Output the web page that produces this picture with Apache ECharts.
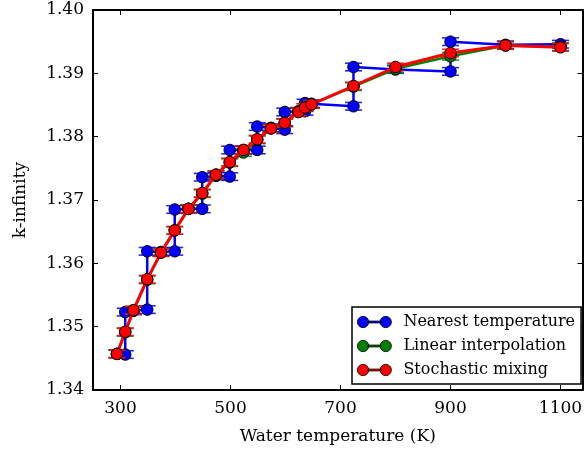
<!DOCTYPE html>
<html>
<head>
<meta charset="utf-8">
<script src="https://cdn.jsdelivr.net/npm/echarts@6/dist/echarts.min.js"></script>
<style>
html,body{margin:0;padding:0;background:#fff;}
#chart{width:586px;height:450px;}
</style>
</head>
<body>
<div id="chart"></div>
<script>
// ---- data ----
const xNearest = [293.6, 308.6, 308.6, 323.6, 348.6, 348.6, 373.6, 398.6, 398.6, 423.6, 448.6, 448.6, 473.6, 498.6, 498.6, 523.6, 548.6, 548.6, 573.6, 598.6, 598.6, 623.6, 635.5, 635.5, 647.3, 723.6, 723.6, 800, 900, 900, 1000, 1100];
const yNearest = [1.3457, 1.3456, 1.3523, 1.3525, 1.3527, 1.3619, 1.3618, 1.3619, 1.3685, 1.3686, 1.3686, 1.3736, 1.3738, 1.3737, 1.3779, 1.3779, 1.3779, 1.3816, 1.3814, 1.3811, 1.3839, 1.3840, 1.3840, 1.3853, 1.3852, 1.3848, 1.3910, 1.3906, 1.3903, 1.3950, 1.3945, 1.3946];
const eNearest = [0.0006, 0.0006, 0.0006, 0.0006, 0.0006, 0.0006, 0.0006, 0.0006, 0.0006, 0.0006, 0.0006, 0.0006, 0.0006, 0.0006, 0.0006, 0.0006, 0.0006, 0.0006, 0.0006, 0.0006, 0.0006, 0.0006, 0.0006, 0.0006, 0.0006, 0.0006, 0.0006, 0.0006, 0.0006, 0.0006, 0.0006, 0.0006];

const xLinear = [293.6, 308.6, 323.6, 348.6, 373.6, 398.6, 423.6, 448.6, 473.6, 498.6, 523.6, 548.6, 573.6, 598.6, 623.6, 635.5, 647.3, 723.6, 800, 900, 1000, 1100];
const yLinear = [1.3457, 1.3491, 1.3526, 1.3574, 1.3617, 1.3652, 1.3686, 1.3710, 1.3740, 1.3759, 1.3775, 1.3795, 1.3813, 1.3822, 1.3839, 1.3846, 1.3851, 1.3879, 1.3907, 1.3927, 1.3944, 1.3942];
const eLinear = [0.0006, 0.0006, 0.0006, 0.0006, 0.0006, 0.0006, 0.0006, 0.0006, 0.0006, 0.0006, 0.0006, 0.0006, 0.0006, 0.0006, 0.0006, 0.0006, 0.0006, 0.0006, 0.0006, 0.0006, 0.0006, 0.0006];

const xStochastic = [293.6, 308.6, 323.6, 348.6, 373.6, 398.6, 423.6, 448.6, 473.6, 498.6, 523.6, 548.6, 573.6, 598.6, 623.6, 635.5, 647.3, 723.6, 800, 900, 1000, 1100];
const yStochastic = [1.3457, 1.3492, 1.3526, 1.3575, 1.3617, 1.3652, 1.3686, 1.3711, 1.3740, 1.3760, 1.3779, 1.3796, 1.3813, 1.3822, 1.3839, 1.3846, 1.3851, 1.3880, 1.3910, 1.3932, 1.3944, 1.3941];
const eStochastic = [0.0006, 0.0006, 0.0006, 0.0006, 0.0006, 0.0006, 0.0006, 0.0006, 0.0006, 0.0006, 0.0006, 0.0006, 0.0006, 0.0006, 0.0006, 0.0006, 0.0006, 0.0006, 0.0006, 0.0006, 0.0006, 0.0006];

const seriesNames = ['Nearest temperature', 'Linear interpolation', 'Stochastic mixing'];
const xTicks = [300, 500, 700, 900, 1100];
const yTicks = [1.34, 1.35, 1.36, 1.37, 1.38, 1.39, 1.40];

// ---- chart ----
const FONT = 'DejaVu Serif';
const colors = ['#0000ff', '#008000', '#ff0000'];
const xs = [xNearest, xLinear, xStochastic];
const ys = [yNearest, yLinear, yStochastic];
const es = [eNearest, eLinear, eStochastic];

function errRender(color) {
  return function (params, api) {
    const x = api.value(0), y = api.value(1), e = api.value(2);
    const t = api.coord([x, y + e]);
    const b = api.coord([x, y - e]);
    const hw = 8.5;
    const st = { stroke: color, lineWidth: 1.6, opacity: 0.85 };
    return {
      type: 'group',
      children: [
        { type: 'line', shape: { x1: t[0], y1: t[1], x2: b[0], y2: b[1] }, style: st },
        { type: 'line', shape: { x1: t[0] - hw, y1: t[1], x2: t[0] + hw, y2: t[1] }, style: st },
        { type: 'line', shape: { x1: b[0] - hw, y1: b[1], x2: b[0] + hw, y2: b[1] }, style: st }
      ]
    };
  };
}

const series = [];
for (let i = 0; i < 3; i++) {
  series.push({
    name: seriesNames[i] + ' err',
    type: 'custom',
    xAxisIndex: 0, yAxisIndex: 0,
    renderItem: errRender(colors[i]),
    data: xs[i].map((x, k) => [x, ys[i][k], es[i][k]]),
    encode: { x: 0, y: 1 },
    z: 2 + i * 3,
    silent: true
  });
  series.push({
    name: seriesNames[i],
    type: 'line',
    xAxisIndex: 0, yAxisIndex: 0,
    data: xs[i].map((x, k) => [x, ys[i][k]]),
    symbol: 'circle',
    symbolSize: 11.5,
    showAllSymbol: true,
    lineStyle: { color: colors[i], width: i === 2 ? 3 : 2.5 },
    itemStyle: { color: colors[i], borderColor: '#000', borderWidth: 1 },
    z: 3 + i * 3,
    clip: false
  });
}

const legendIcon = 'path://M0,6A6,6 0 1,1 12,6A6,6 0 1,1 0,6Z M11,5L25,5L25,7L11,7Z M24,6A6,6 0 1,1 36,6A6,6 0 1,1 24,6Z';

const axisLineStyle = { color: '#000', width: 2 };
const tickStyle = { color: '#000', width: 1 };

const option = {
  animation: false,
  backgroundColor: '#fff',
  grid: { left: 93, right: 3.5, top: 10, bottom: 60, containLabel: false },
  xAxis: [
    {
      type: 'value', position: 'bottom', min: 250, max: 1140,
      axisLine: { show: true, onZero: false, lineStyle: axisLineStyle },
      axisTick: { show: true, inside: true, length: 5, lineStyle: tickStyle, customValues: xTicks },
      axisLabel: { show: true, customValues: xTicks, margin: 10, color: '#000', fontFamily: FONT, fontSize: 17,
        formatter: v => String(v) },
      splitLine: { show: false },
      name: 'Water temperature (K)', nameLocation: 'middle', nameGap: 38,
      nameTextStyle: { color: '#000', fontFamily: FONT, fontSize: 17 }
    },
    {
      type: 'value', position: 'top', min: 250, max: 1140,
      axisLine: { show: true, onZero: false, lineStyle: axisLineStyle },
      axisTick: { show: true, inside: true, length: 5, lineStyle: tickStyle, customValues: xTicks },
      axisLabel: { show: false },
      splitLine: { show: false }
    }
  ],
  yAxis: [
    {
      type: 'value', position: 'left', min: 1.34, max: 1.40,
      axisLine: { show: true, onZero: false, lineStyle: axisLineStyle },
      axisTick: { show: true, inside: true, length: 5, lineStyle: tickStyle, customValues: yTicks },
      axisLabel: { show: true, customValues: yTicks, margin: 9, color: '#000', fontFamily: FONT, fontSize: 17,
        formatter: v => v.toFixed(2) },
      splitLine: { show: false },
      name: 'k-infinity', nameLocation: 'middle', nameGap: 64,
      nameTextStyle: { color: '#000', fontFamily: FONT, fontSize: 17 }
    },
    {
      type: 'value', position: 'right', min: 1.34, max: 1.40,
      axisLine: { show: true, onZero: false, lineStyle: axisLineStyle },
      axisTick: { show: true, inside: true, length: 5, lineStyle: tickStyle, customValues: yTicks },
      axisLabel: { show: false },
      splitLine: { show: false }
    }
  ],
  legend: {
    orient: 'vertical',
    left: 352, top: 307,
    padding: [7, 6, 6, 5],
    itemWidth: 34, itemHeight: 12, itemGap: 8,
    borderColor: '#000', borderWidth: 1.5, borderRadius: 0,
    backgroundColor: '#fff',
    selectedMode: false,
    icon: legendIcon,
    itemStyle: { borderColor: '#000', borderWidth: 0.8 },
    textStyle: { color: '#000', fontFamily: FONT, fontSize: 16, padding: [0, 0, 0, 7], lineHeight: 14 },
    data: seriesNames
  },
  series: series
};

const chart = echarts.init(document.getElementById('chart'), null, { renderer: 'canvas' });
chart.setOption(option);
</script>
</body>
</html>
